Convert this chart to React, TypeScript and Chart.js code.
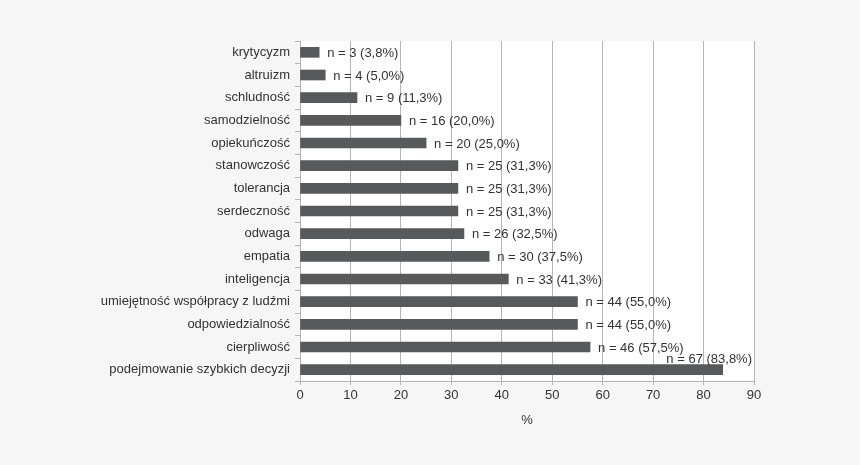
import React, { useEffect, useRef } from "react";
import { Chart, registerables } from "chart.js";

Chart.register(...registerables);

const categories = [
  "krytycyzm",
  "altruizm",
  "schludność",
  "samodzielność",
  "opiekuńczość",
  "stanowczość",
  "tolerancja",
  "serdeczność",
  "odwaga",
  "empatia",
  "inteligencja",
  "umiejętność współpracy z ludźmi",
  "odpowiedzialność",
  "cierpliwość",
  "podejmowanie szybkich decyzji",
];
const counts = [3, 4, 9, 16, 20, 25, 25, 25, 26, 30, 33, 44, 44, 46, 67];
const percents = [3.8, 5.0, 11.3, 20.0, 25.0, 31.3, 31.3, 31.3, 32.5, 37.5, 41.3, 55.0, 55.0, 57.5, 83.8];
const xMin = 0;
const xMax = 90;
const xStep = 10;
const xTitle = "%";

const FONT = "'Liberation Sans', Arial, Helvetica, sans-serif";

export default function App() {
  const ref = useRef<HTMLCanvasElement>(null);
  useEffect(() => {
    document.body.style.margin = "0";
    const bgPlugin = {
      id: "bg",
      beforeDraw(chart: any) {
        const { ctx, chartArea: a } = chart;
        ctx.save();
        ctx.fillStyle = "#f6f6f6";
        ctx.fillRect(0, 0, chart.width, chart.height);
        ctx.fillStyle = "#ffffff";
        ctx.fillRect(a.left, a.top, a.right - a.left, a.bottom - a.top);
        ctx.restore();
      },
    };
    const labelPlugin = {
      id: "valueLabels",
      afterDatasetsDraw(chart: any) {
        const { ctx, chartArea: a } = chart;
        const meta = chart.getDatasetMeta(0);
        ctx.save();
        ctx.font = `13px ${FONT}`;
        ctx.fillStyle = "#333333";
        meta.data.forEach((bar: any, i: number) => {
          const text = `n = ${counts[i]} (${percents[i].toFixed(1).replace(".", ",")}%)`;
          const w = ctx.measureText(text).width;
          const x = bar.x + 8;
          if (x + w > a.right) {
            ctx.textAlign = "right";
            ctx.textBaseline = "bottom";
            ctx.fillText(text, a.right - 2, bar.y - 4);
          } else {
            ctx.textAlign = "left";
            ctx.textBaseline = "middle";
            ctx.fillText(text, x, bar.y + 1);
          }
        });
        ctx.restore();
      },
    };
    const chart = new Chart(ref.current as HTMLCanvasElement, {
      type: "bar",
      data: {
        labels: categories,
        datasets: [
          {
            data: percents,
            backgroundColor: "#58595b",
            barThickness: 10,
          },
        ],
      },
      options: {
        indexAxis: "y",
        responsive: false,
        animation: false,
        layout: { padding: { top: 41, right: 106, bottom: 0, left: 0 } },
        plugins: { legend: { display: false }, tooltip: { enabled: false } },
        scales: {
          x: {
            min: xMin,
            max: xMax,
            ticks: { stepSize: xStep, color: "#333333", font: { family: FONT, size: 13 }, padding: 3 },
            grid: { color: "#b5b5b5", tickLength: 4, lineWidth: 1 },
            border: { color: "#b5b5b5" },
            title: {
              display: true,
              text: xTitle,
              color: "#333333",
              font: { family: FONT, size: 13 },
              padding: { top: 4, bottom: 37 },
            },
            afterFit(s: any) {
              s.height = 84;
            },
          },
          y: {
            ticks: { color: "#333333", font: { family: FONT, size: 13 }, padding: 5 },
            grid: { drawOnChartArea: false, offset: true, tickLength: 5, color: "#b5b5b5" },
            border: { color: "#b5b5b5" },
            afterFit(s: any) {
              s.width = 300;
            },
          },
        },
      },
      plugins: [bgPlugin, labelPlugin],
    } as any);
    return () => chart.destroy();
  }, []);
  return <canvas ref={ref} width={860} height={465} style={{ display: "block" }} />;
}
